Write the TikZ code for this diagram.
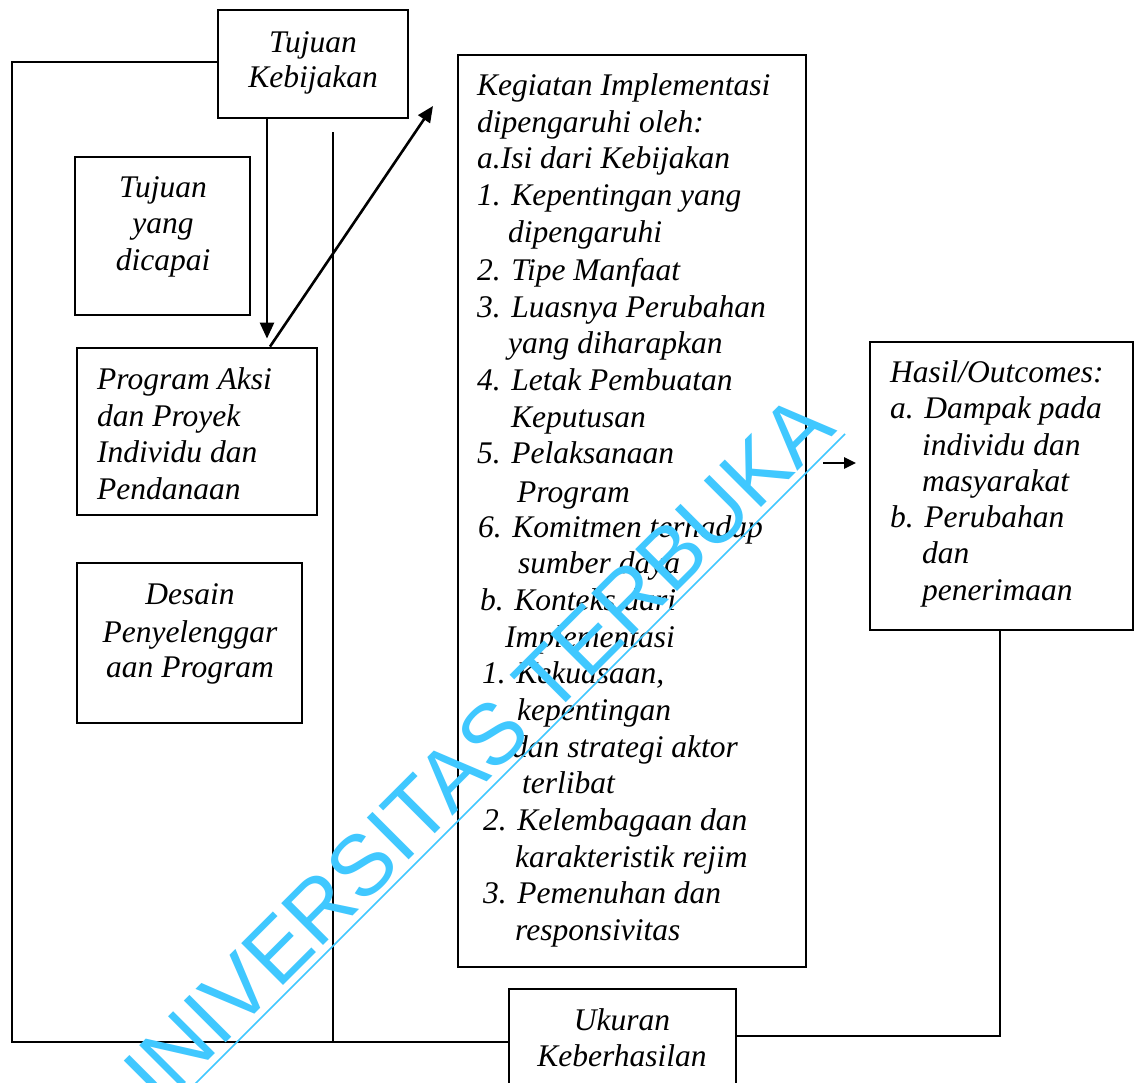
\documentclass[tikz,border=0pt]{standalone}
\usepackage{fontspec}
\setmainfont{Liberation Serif}
\setsansfont{Liberation Sans}
\usetikzlibrary{fit,arrows.meta}
\definecolor{wm}{RGB}{64,200,255}
\tikzset{
  box/.style={draw, line width=2.8pt, inner sep=0pt},
  ln/.style={line width=2.8pt},
  arr/.style={line width=2.6pt, -{Triangle[length=16pt,width=14pt]}},
  sarr/.style={line width=2.6pt, -{Triangle[length=12pt,width=11pt]}},
  tl/.style={anchor=base west, inner sep=0pt, font=\itshape\fontsize{31.5}{37}\selectfont},
  tc/.style={anchor=base, inner sep=0pt, font=\itshape\fontsize{31.5}{37}\selectfont},
}
\begin{document}
\begin{tikzpicture}[x=1pt,y=-1pt]
\useasboundingbox (0,0) rectangle (1140,1082);
\clip (0,0) rectangle (1140,1082);
\fill[white] (0,0) rectangle (1140,1082);

% boxes
\node[box, fit={(218,10) (408,118)}] (tk) {};
\node[box, fit={(75,157) (250,315)}] (ty) {};
\node[box, fit={(77,348) (317,515)}] (pa) {};
\node[box, fit={(77,563) (302,723)}] (ds) {};
\node[box, fit={(458,55) (806,967)}] (im) {};
\node[box, fit={(870,342) (1133,630)}] (hs) {};
\node[box, fit={(509,989) (736,1110)}] (uk) {};

% texts
\node[tc] (tk1) at (313,52) {Tujuan};
\node[tc] (tk2) at (313,87) {Kebijakan};

\node[tc] (ty1) at (163,197) {Tujuan};
\node[tc] (ty2) at (163,233) {yang};
\node[tc] (ty3) at (163,270) {dicapai};

\node[tl] (pa1) at (97,389) {Program Aksi};
\node[tl] (pa2) at (97,426) {dan Proyek};
\node[tl] (pa3) at (97,462) {Individu dan};
\node[tl] (pa4) at (97,499) {Pendanaan};

\node[tc] (ds1) at (190,604) {Desain};
\node[tc] (ds2) at (190,642) {Penyelenggar};
\node[tc] (ds3) at (190,677) {aan Program};

\node[tl] (im1) at (477,95) {Kegiatan Implementasi};
\node[tl] (im2) at (477,132) {dipengaruhi oleh:};
\node[tl] (im3) at (477,168) {a.Isi dari Kebijakan};
\node[tl] (im4) at (477,205) {1. Kepentingan yang};
\node[tl] (im5) at (508,242) {dipengaruhi};
\node[tl] (im6) at (477,280) {2. Tipe Manfaat};
\node[tl] (im7) at (477,317) {3. Luasnya Perubahan};
\node[tl] (im8) at (508,353) {yang diharapkan};
\node[tl] (im9) at (477,390) {4. Letak Pembuatan};
\node[tl] (im10) at (511,427) {Keputusan};
\node[tl] (im11) at (477,463) {5. Pelaksanaan};
\node[tl] (im12) at (517,502) {Program};
\node[tl] (im13) at (478,537) {6. Komitmen terhadap};
\node[tl] (im14) at (518,573) {sumber daya};
\node[tl] (im15) at (480,610) {b. Konteks dari};
\node[tl] (im16) at (505,647) {Implementasi};
\node[tl] (im17) at (482,683) {1. Kekuasaan,};
\node[tl] (im18) at (517,720) {kepentingan};
\node[tl] (im19) at (512,757) {dan strategi aktor};
\node[tl] (im20) at (522,793) {terlibat};
\node[tl] (im21) at (483,830) {2. Kelembagaan dan};
\node[tl] (im22) at (515,867) {karakteristik rejim};
\node[tl] (im23) at (483,903) {3. Pemenuhan dan};
\node[tl] (im24) at (515,940) {responsivitas};

\node[tl] (hs1) at (890,382) {Hasil/Outcomes:};
\node[tl] (hs2) at (890,418) {a. Dampak pada};
\node[tl] (hs3) at (922,455) {individu dan};
\node[tl] (hs4) at (922,491) {masyarakat};
\node[tl] (hs5) at (890,527) {b. Perubahan};
\node[tl] (hs6) at (922,563) {dan};
\node[tl] (hs7) at (922,600) {penerimaan};

\node[tc] (uk1) at (622,1030) {Ukuran};
\node[tc] (uk2) at (622,1066) {Keberhasilan};

% connectors
\coordinate (cTL) at (12,62);
\coordinate (cBL) at (12,1042);
\coordinate (vtop) at (333,132);
\coordinate (cBR) at (1000,1036);
\coordinate (dtip) at (433,106);
\coordinate (s1) at (823,463);
\coordinate (s2) at (856,463);

\draw[ln] (tk.west |- cTL) -- (cTL) -- (cBL) -- (cBL -| uk.west);
\draw[ln] (vtop) -- (vtop |- cBL);
\draw[ln] (hs.south -| cBR) -- (cBR) -- (cBR -| uk.east);
\draw[arr] (tk.south -| 267,0) -- ([yshift=8pt]pa.north -| 267,0);
\draw[arr] (pa.north -| 270,0) -- (dtip);
\draw[sarr] (s1) -- (s2);

% watermark
\node[rotate=45, anchor=base east, inner sep=0pt, text=wm,
      font=\sffamily\fontsize{86}{86}\selectfont] (wmk) at (838,431) {UNIVERSITAS TERBUKA};
\draw[wm, line width=1.6pt] (150,1129) -- (845,434);
\end{tikzpicture}
\end{document}
